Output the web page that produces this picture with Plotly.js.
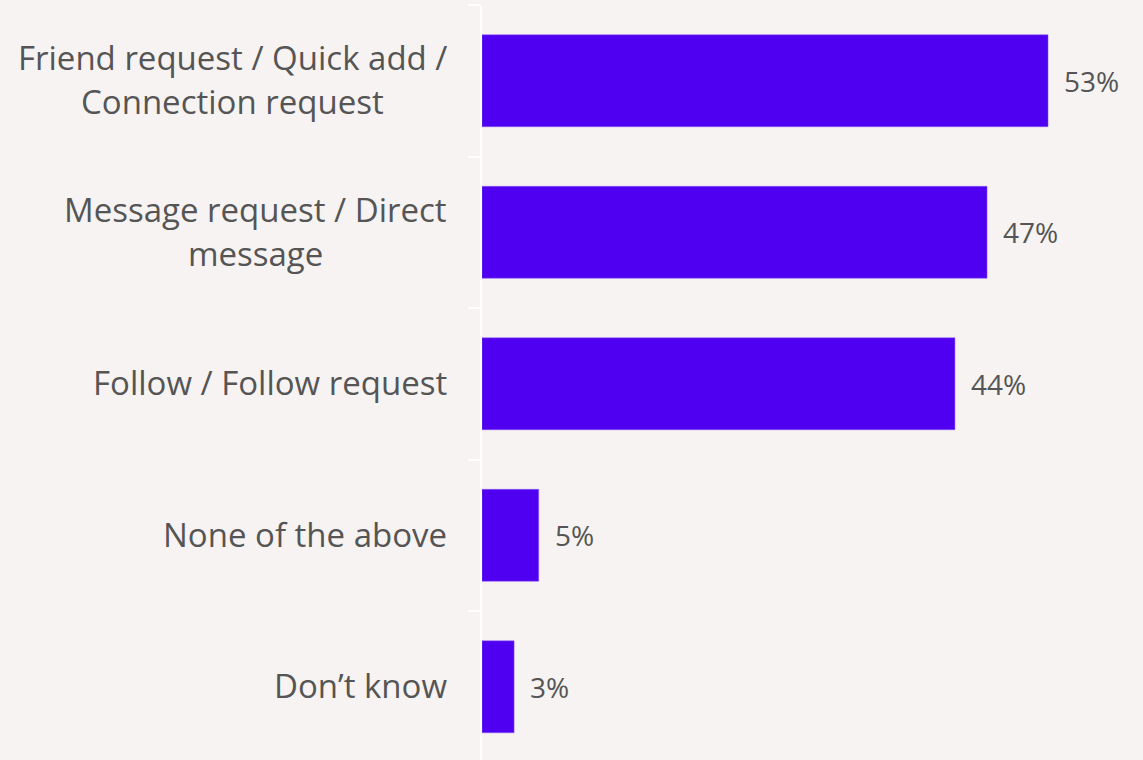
<!DOCTYPE html>
<html>
<head>
<meta charset="utf-8">
<script src="https://cdn.plot.ly/plotly-3.0.1.min.js"></script>
<style>
html,body{margin:0;padding:0;background:#F7F3F2;}
#chart{width:1143px;height:760px;}
</style>
</head>
<body>
<div id="chart"></div>
<script>
var categories = [
  "Friend request / Quick add /<br>Connection request",
  "Message request / Direct<br>message",
  "Follow / Follow request",
  "None of the above",
  "Don\u2019t know"
];
var values = [52.9, 47.2, 44.2, 5.3, 3.0];
var labels = ["53%", "47%", "44%", "5%", "3%"];

var FONT = "'Open Sans', sans-serif";
var catSize = 33, valSize = 28, textColor = "#555555";
var lineGap = 44, labelRight = 35;

var canvas = document.createElement("canvas");
var ctx = canvas.getContext("2d");
ctx.font = catSize + "px 'Open Sans'";

var annotations = [];
categories.forEach(function (cat, ci) {
  var lines = cat.split("<br>");
  var maxW = 0;
  lines.forEach(function (ln) { maxW = Math.max(maxW, ctx.measureText(ln).width); });
  lines.forEach(function (ln, li) {
    annotations.push({
      xref: "paper", yref: "y", x: 0, y: cat,
      text: ln, showarrow: false,
      xanchor: "center", yanchor: "middle",
      xshift: -(labelRight + maxW / 2),
      yshift: ((lines.length - 1) / 2 - li) * lineGap + 1,
      font: {family: FONT, size: catSize, color: textColor}
    });
  });
  annotations.push({
    xref: "x", yref: "y", x: values[ci], y: cat,
    text: labels[ci], showarrow: false,
    xanchor: "left", yanchor: "middle", xshift: 14,
    font: {family: FONT, size: valSize, color: textColor}
  });
});

var trace = {
  type: "bar",
  orientation: "h",
  x: values,
  y: categories,
  marker: {color: "#5000F0", line: {color: "#8A5CF5", width: 0.5}},
  hoverinfo: "none"
};

var layout = {
  width: 1143,
  height: 760,
  paper_bgcolor: "#F7F3F2",
  plot_bgcolor: "#F7F3F2",
  margin: {l: 482, r: 19, t: 5, b: 0},
  bargap: 0.393,
  showlegend: false,
  font: {family: FONT, color: textColor},
  annotations: annotations,
  xaxis: {
    range: [0, 60],
    visible: false,
    showgrid: false,
    zeroline: false
  },
  yaxis: {
    type: "category",
    range: [4.483, -0.5],
    showline: true,
    linecolor: "#FFFFFF",
    linewidth: 2,
    ticks: "outside",
    tickson: "boundaries",
    ticklen: 12,
    tickwidth: 2,
    tickcolor: "#FFFFFF",
    showgrid: false,
    zeroline: false,
    showticklabels: false
  }
};

Plotly.newPlot("chart", [trace], layout, {displayModeBar: false, staticPlot: true});
</script>
</body>
</html>
